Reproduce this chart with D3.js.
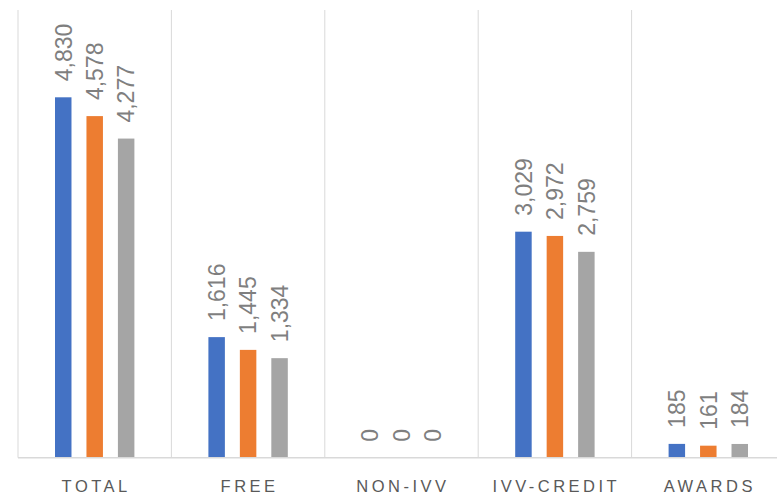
<!DOCTYPE html>
<html>
<head>
<meta charset="utf-8">
<script src="https://cdn.jsdelivr.net/npm/d3@7"></script>
<style>
  body { margin: 0; background: #fff; }
  svg { display: block; font-family: "Liberation Sans", Arial, sans-serif; }
</style>
</head>
<body>
<svg id="chart" width="777" height="495"></svg>
<script>
// data
var categories = ["TOTAL", "FREE", "NON-IVV", "IVV-CREDIT", "AWARDS"];
var seriesA = [4830, 1616, 0, 3029, 185];
var seriesB = [4578, 1445, 0, 2972, 161];
var seriesC = [4277, 1334, 0, 2759, 184];
var colors = ["#4472C4", "#ED7D31", "#A5A5A5"];

var series = [seriesA, seriesB, seriesC];

var svg = d3.select("#chart");
// note: "top" is taken by window.top, so plotTop
var plotLeft = 18, catW = 153.4, plotTop = 10, plotBottom = 457.7;

var x = d3.scaleBand()
    .domain(categories)
    .range([plotLeft, plotLeft + catW * categories.length])
    .paddingInner(0).paddingOuter(0);

var xs = d3.scaleBand()
    .domain([0, 1, 2])
    .range([x.bandwidth() / 2 - 39.7, x.bandwidth() / 2 + 39.7])
    .paddingInner(0.476).paddingOuter(0);

var y = d3.scaleLinear().domain([0, 6000]).range([plotBottom, plotTop]);

// vertical gridlines between categories
var edges = categories.map(c => x(c)).concat([x.range()[1]]);
svg.append("g")
    .selectAll("line")
    .data(edges)
    .join("line")
    .attr("x1", d => d).attr("x2", d => d)
    .attr("y1", plotTop).attr("y2", plotBottom)
    .attr("stroke", "#d9d9d9")
    .attr("stroke-width", 1);

// bars + rotated value labels
var g = svg.append("g");
categories.forEach(function(cat, i) {
    var vals = series.map((s, k) => ({ k: k, v: s[i] }));
    var cg = g.append("g").attr("transform", `translate(${x(cat)},0)`);
    cg.selectAll("rect")
        .data(vals)
        .join("rect")
        .attr("x", d => xs(d.k))
        .attr("width", xs.bandwidth())
        .attr("y", d => y(d.v))
        .attr("height", d => plotBottom - y(d.v))
        .attr("fill", d => colors[d.k]);

    cg.selectAll("text")
        .data(vals)
        .join("text")
        .attr("transform", d => `translate(${xs(d.k) + xs.bandwidth() / 2},${y(d.v) - 16}) rotate(-90)`)
        .attr("dy", "0.36em")
        .attr("text-anchor", "start")
        .attr("font-size", 23)
        .attr("fill", "#7f7f7f")
        .text(d => d3.format(",")(d.v));
});

// baseline
svg.append("line")
    .attr("x1", plotLeft).attr("x2", 777)
    .attr("y1", plotBottom).attr("y2", plotBottom)
    .attr("stroke", "#d9d9d9")
    .attr("stroke-width", 1.5);

// category labels
svg.append("g")
    .selectAll("text")
    .data(categories)
    .join("text")
    .attr("x", d => x(d) + x.bandwidth() / 2 + 1.5)
    .attr("y", 492)
    .attr("text-anchor", "middle")
    .attr("font-size", 16.5)
    .attr("letter-spacing", "3.5px")
    .attr("fill", "#595959")
    .text(d => d);
</script>
</body>
</html>
